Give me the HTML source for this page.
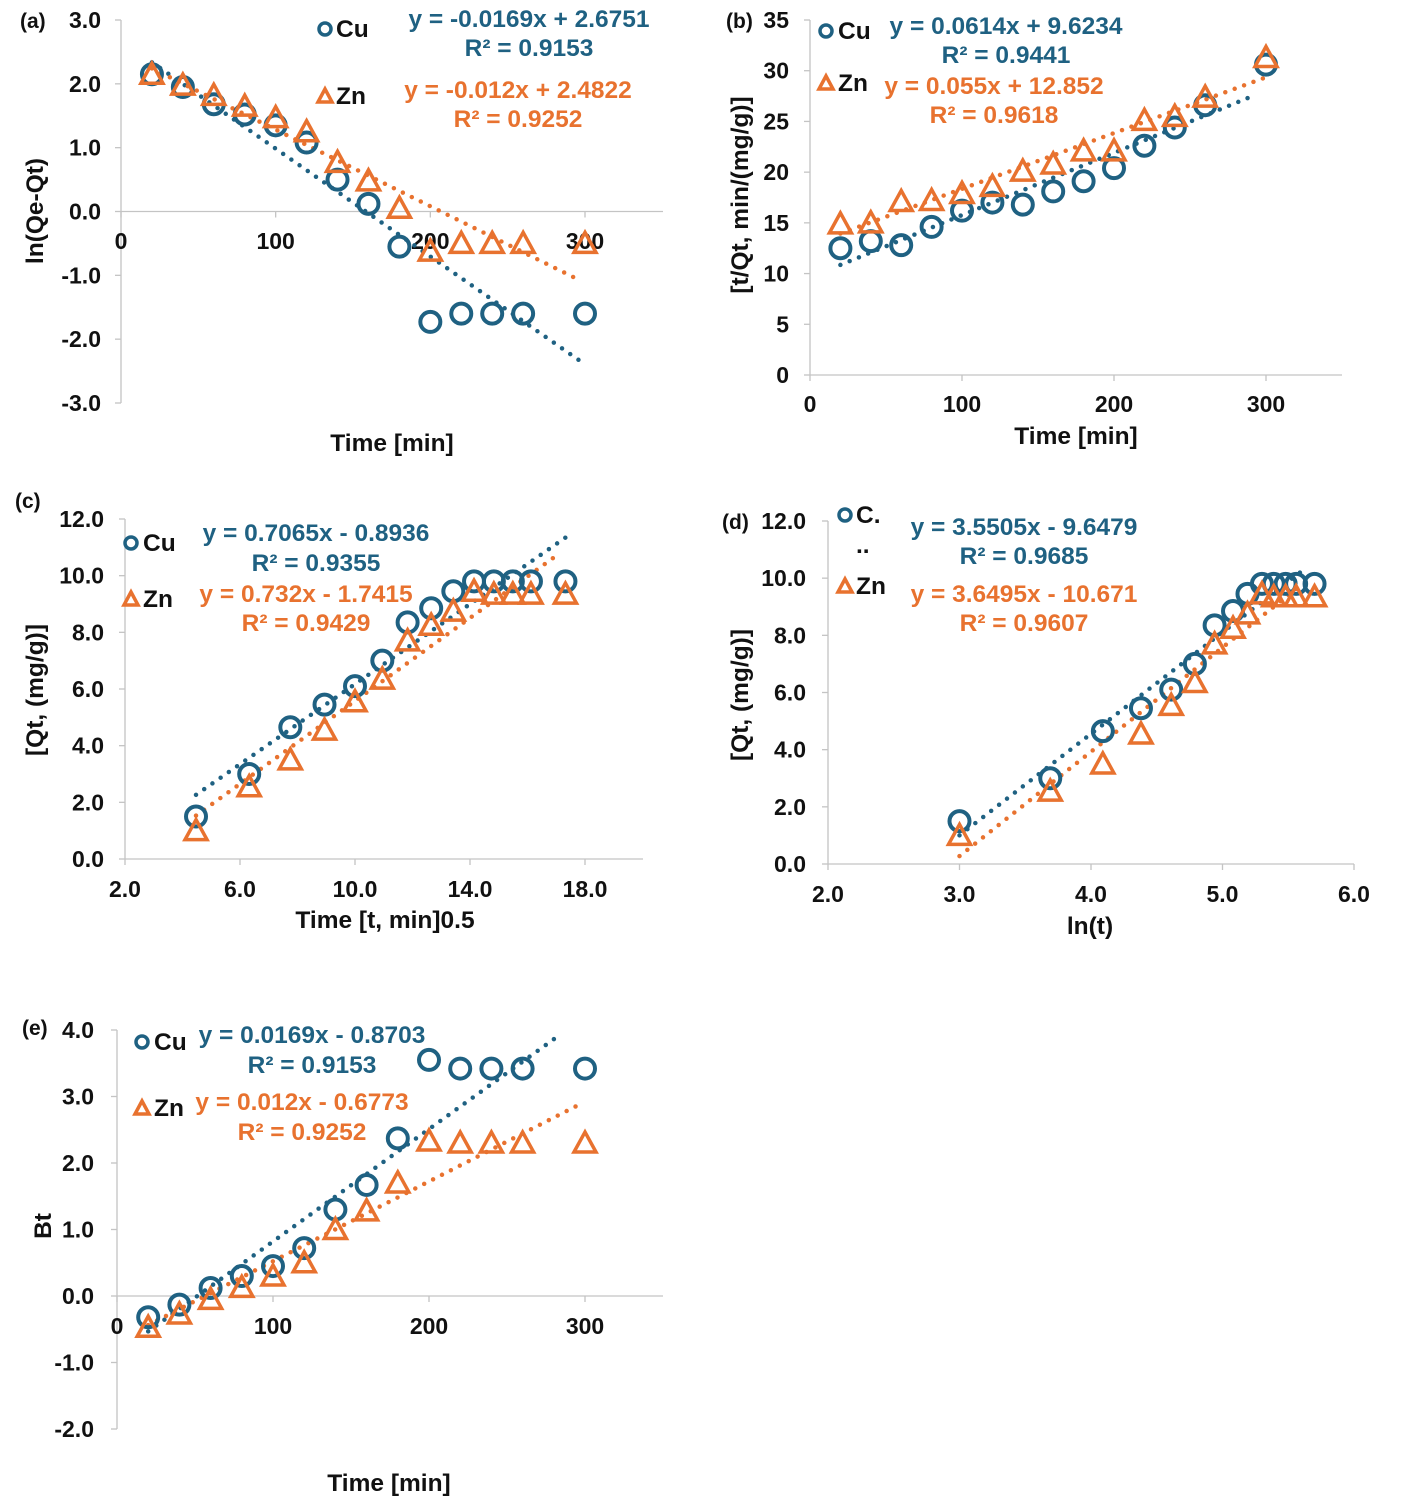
<!DOCTYPE html>
<html><head><meta charset="utf-8"><style>
body{margin:0;background:#fff;}
svg{display:block;font-family:"Liberation Sans",Arial,sans-serif;font-weight:bold;}
</style></head><body>
<svg id="fig" width="1406" height="1502" viewBox="0 0 1406 1502" xmlns="http://www.w3.org/2000/svg"></svg>
<script>
// ---- data ----
const timeMin = [20,40,60,80,100,120,140,160,180,200,220,240,260,300];
const sqrtTime = [4.47,6.32,7.75,8.94,10,10.95,11.83,12.65,13.42,14.14,14.83,15.49,16.12,17.32];
const lnTime = [3.0,3.69,4.09,4.38,4.61,4.79,4.94,5.08,5.19,5.30,5.39,5.48,5.56,5.70];
const aCu = [2.15,1.95,1.68,1.52,1.35,1.08,0.5,0.12,-0.55,-1.73,-1.6,-1.6,-1.6,-1.6];
const aZn = [2.15,1.98,1.82,1.65,1.47,1.25,0.77,0.48,0.05,-0.62,-0.5,-0.5,-0.5,-0.5];
const bCu = [12.5,13.2,12.8,14.6,16.2,17,16.8,18.1,19.1,20.4,22.6,24.4,26.6,30.6];
const bZn = [14.9,15,17.1,17.2,17.9,18.6,20.1,20.8,22.1,22.1,25.1,25.5,27.4,31.3];
const qCu = [1.5,3.0,4.65,5.45,6.1,7.0,8.35,8.85,9.45,9.8,9.8,9.8,9.8,9.8];
const qZn = [1.0,2.55,3.5,4.55,5.55,6.35,7.7,8.25,8.75,9.45,9.35,9.35,9.35,9.35];
const eCu = [-0.32,-0.13,0.12,0.3,0.45,0.72,1.3,1.67,2.37,3.55,3.42,3.42,3.42,3.42];
const eZn = [-0.47,-0.27,-0.05,0.13,0.3,0.5,1.0,1.28,1.7,2.33,2.3,2.3,2.3,2.3];
const aTicksY = [3,2,1,0,-1,-2,-3];
const bTicksY = [0,5,10,15,20,25,30,35];
const cTicksY = [0,2,4,6,8,10,12];
const eTicksY = [4,3,2,1,0,-1,-2];
const timeTicks = [0,100,200,300];
const cTicksX = [2,6,10,14,18];
const dTicksX = [2,3,4,5,6];

const BLUE='#1f6182', ORANGE='#e8722f', NS='http://www.w3.org/2000/svg';
const svg=document.getElementById('fig');
function el(tag,attrs,parent,text){const e=document.createElementNS(NS,tag);for(const k in attrs)e.setAttribute(k,attrs[k]);if(text!==undefined)e.textContent=text;(parent||svg).appendChild(e);return e;}

function panel(p){
  const g=el('g',{});
  
  
  const X=v=>p.x0+(v-p.xmin)*(p.x1-p.x0)/(p.xmax-p.xmin);
  const Y=v=>p.y0+(v-p.ymin)*(p.y1-p.y0)/(p.ymax-p.ymin);
  const ax=X(p.xmin), yAxisZero=Y(p.xAxisAt);
  const ya=el('line',{x1:ax,y1:Y(p.ymax),x2:ax,y2:Y(p.ymin),stroke:'#c4c4c4','stroke-width':1.3},g);
  
  const xa=el('line',{x1:ax,y1:yAxisZero,x2:p.xend||X(p.xmax),y2:yAxisZero,stroke:'#c4c4c4','stroke-width':1.3},g);
  
  p.yt.forEach(v=>{
    el('line',{x1:ax-6,y1:Y(v),x2:ax,y2:Y(v),stroke:'#c4c4c4','stroke-width':1.3},g);
    const t=el('text',{x:p.ylx,y:Y(v)+8,'text-anchor':'end','font-size':23,fill:'#111'},g,p.yfmt(v));
    
  });
  p.xt.forEach(v=>{
    el('line',{x1:X(v),y1:yAxisZero,x2:X(v),y2:yAxisZero+6,stroke:'#c4c4c4','stroke-width':1.3},g);
    const t=el('text',{x:X(v),y:p.xly,'text-anchor':'middle','font-size':23,fill:'#111'},g,p.xfmt(v));
    
  });
  p.trends.forEach(tr=>{
    const l=el('line',{x1:X(tr.from),y1:Y(tr.m*tr.from+tr.b),x2:X(tr.to),y2:Y(tr.m*tr.to+tr.b),stroke:tr.c,'stroke-width':4.5,'stroke-linecap':'round','stroke-dasharray':'0 10'},g);
    
  });
  p.xs.forEach((xv,i)=>{
    const c=el('circle',{cx:X(xv),cy:Y(p.cu[i]),r:10,fill:'none',stroke:BLUE,'stroke-width':4},g);
    
  });
  p.xs.forEach((xv,i)=>{
    const cx=X(xv),cy=Y(p.zn[i]);
    const t=el('polygon',{points:`${cx},${cy-11} ${cx-11},${cy+9} ${cx+11},${cy+9}`,fill:'none',stroke:ORANGE,'stroke-width':3.5,'stroke-linejoin':'miter'},g);
    
  });
  return g;
}
function txt(x,y,s,opt,name){const t=el('text',Object.assign({x:x,y:y,'font-size':24.5,fill:'#111'},opt||{}),svg,s);return t;}
function legend(cx,cy,tx,label,type){
  let m;
  if(type==='c'){m=el('circle',{cx:cx,cy:cy,r:6,fill:'none',stroke:BLUE,'stroke-width':3.5});}
  else{m=el('polygon',{points:`${cx},${cy-7} ${cx-7},${cy+6} ${cx+7},${cy+6}`,fill:'none',stroke:ORANGE,'stroke-width':3.5});}
  
  txt(tx,cy+8,label,{},'legend-label');
}
function eq(cx,y1,y2,l1,l2,col){txt(cx,y1,l1,{'text-anchor':'middle',fill:col},'trend-equation');txt(cx,y2,l2,{'text-anchor':'middle',fill:col},'r-squared');}
const f1=v=>v.toFixed(1), f0=v=>String(v);

// (a)
panel({id:'a',x0:121,x1:585,xmin:0,xmax:300,xend:663,y0:403,y1:20,ymin:-3,ymax:3,xAxisAt:0,xs:timeMin,cu:aCu,zn:aZn,
 yt:aTicksY,xt:timeTicks,ylx:101,xly:249,yfmt:f1,xfmt:f0,
 trends:[{from:20,to:298,m:-0.0169,b:2.6751,c:BLUE},{from:20,to:295,m:-0.012,b:2.4822,c:ORANGE}]});
txt(20,28,'(a)',{'font-size':21},'panel-label');
legend(325,29,336,'Cu','c');legend(325,96,336,'Zn','t');
eq(529,27,56,'y = -0.0169x + 2.6751','R² = 0.9153',BLUE);
eq(518,98,127,'y = -0.012x + 2.4822','R² = 0.9252',ORANGE);
txt(392,451,'Time [min]',{'text-anchor':'middle'},'x-axis-title');
txt(0,0,'ln(Qe-Qt)',{'text-anchor':'middle',transform:'translate(43,211) rotate(-90)'},'y-axis-title');

// (b)
panel({id:'b',x0:810,x1:1266,xmin:0,xmax:300,xend:1342,y0:375,y1:20,ymin:0,ymax:35,xAxisAt:0,xs:timeMin,cu:bCu,zn:bZn,
 yt:bTicksY,xt:timeTicks,ylx:789,xly:412,yfmt:f0,xfmt:f0,
 trends:[{from:20,to:290,m:0.0614,b:9.6234,c:BLUE},{from:20,to:300,m:0.055,b:12.852,c:ORANGE}]});
txt(726,28,'(b)',{'font-size':21},'panel-label');
legend(826,31,838,'Cu','c');legend(826,83,838,'Zn','t');
eq(1006,34,63,'y = 0.0614x + 9.6234','R² = 0.9441',BLUE);
eq(994,94,123,'y = 0.055x + 12.852','R² = 0.9618',ORANGE);
txt(1076,444,'Time [min]',{'text-anchor':'middle'},'x-axis-title');
txt(0,0,'[t/Qt, min/(mg/g)]',{'text-anchor':'middle',transform:'translate(748,195) rotate(-90)'},'y-axis-title');

// (c)
panel({id:'c',x0:125,x1:585,xmin:2,xmax:18,xend:643,y0:859,y1:519,ymin:0,ymax:12,xAxisAt:0,xs:sqrtTime,cu:qCu,zn:qZn,
 yt:cTicksY,xt:cTicksX,ylx:104,xly:897,yfmt:f1,xfmt:f1,
 trends:[{from:4.47,to:17.32,m:0.7065,b:-0.8936,c:BLUE},{from:4.47,to:17.0,m:0.732,b:-1.7415,c:ORANGE}]});
txt(15,508,'(c)',{'font-size':21},'panel-label');
legend(131,543,143,'Cu','c');legend(131,599,143,'Zn','t');
eq(316,541,571,'y = 0.7065x - 0.8936','R² = 0.9355',BLUE);
eq(306,602,631,'y = 0.732x - 1.7415','R² = 0.9429',ORANGE);
txt(385,928,'Time [t, min]0.5',{'text-anchor':'middle'},'x-axis-title');
txt(0,0,'[Qt, (mg/g)]',{'text-anchor':'middle',transform:'translate(43,690) rotate(-90)'},'y-axis-title');

// (d)
panel({id:'d',x0:828,x1:1354,xmin:2,xmax:6,y0:864,y1:521,ymin:0,ymax:12,xAxisAt:0,xs:lnTime,cu:qCu,zn:qZn,
 yt:cTicksY,xt:dTicksX,ylx:806,xly:902,yfmt:f1,xfmt:f1,
 trends:[{from:3.0,to:5.63,m:3.5505,b:-9.6479,c:BLUE},{from:3.0,to:5.6,m:3.6495,b:-10.671,c:ORANGE}]});
txt(722,529,'(d)',{'font-size':21},'panel-label');
legend(845,515,856,'C.','c');txt(856,553,'..',{},'legend-label');legend(845,586,856,'Zn','t');
eq(1024,535,564,'y = 3.5505x - 9.6479','R² = 0.9685',BLUE);
eq(1024,602,631,'y = 3.6495x - 10.671','R² = 0.9607',ORANGE);
txt(1090,934,'ln(t)',{'text-anchor':'middle'},'x-axis-title');
txt(0,0,'[Qt, (mg/g)]',{'text-anchor':'middle',transform:'translate(748,695) rotate(-90)'},'y-axis-title');

// (e)
panel({id:'e',x0:117,x1:585,xmin:0,xmax:300,xend:663,y0:1429,y1:1030,ymin:-2,ymax:4,xAxisAt:0,xs:timeMin,cu:eCu,zn:eZn,
 yt:eTicksY,xt:timeTicks,ylx:94,xly:1334,yfmt:f1,xfmt:f0,
 trends:[{from:20,to:285,m:0.0169,b:-0.8703,c:BLUE},{from:20,to:297,m:0.012,b:-0.6773,c:ORANGE}]});
txt(22,1035,'(e)',{'font-size':21},'panel-label');
legend(142,1042,154,'Cu','c');legend(142,1108,154,'Zn','t');
eq(312,1043,1073,'y = 0.0169x - 0.8703','R² = 0.9153',BLUE);
eq(302,1110,1140,'y = 0.012x - 0.6773','R² = 0.9252',ORANGE);
txt(389,1491,'Time [min]',{'text-anchor':'middle'},'x-axis-title');
txt(0,0,'Bt',{'text-anchor':'middle',transform:'translate(51,1226) rotate(-90)'},'y-axis-title');
</script>
</body></html>
